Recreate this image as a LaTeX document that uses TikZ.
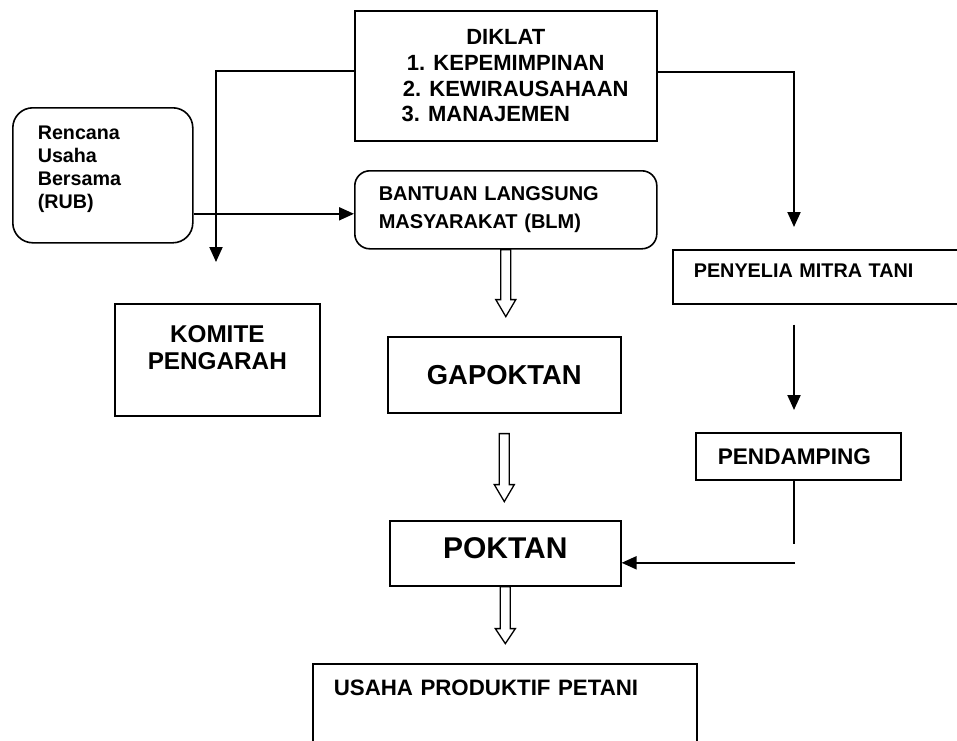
\documentclass[tikz,border=0pt]{standalone}
\usepackage{fontspec}
\setmainfont{Liberation Sans}
\usetikzlibrary{arrows.meta, calc}

\begin{document}
\begin{tikzpicture}[
    x=1pt, y=-1pt,
    box/.style={draw, rectangle, line width=1.6pt, anchor=north west, inner ysep=0pt},
    rbox/.style={box, rounded corners=#1},
    arrow/.style={-{Triangle[length=15pt, width=13pt]}, line width=2pt},
    hollow/.style={draw, line width=1.3pt}
]
\useasboundingbox (0,0) rectangle (957,740);

% Boxes
\node [box, minimum width=302pt, minimum height=130pt, align=center,
       font=\fontsize{22}{25.7}\selectfont\bfseries] (diklat) at (354,10)
      {DIKLAT\\1. KEPEMIMPINAN\\\hspace*{20pt}2. KEWIRAUSAHAAN\\3. MANAJEMEN\rule{40pt}{0pt}};
\node [rbox=20pt, minimum width=180pt, minimum height=135pt, text width=130pt, inner xsep=25pt,
       align=left, font=\fontsize{19.7}{23}\selectfont\bfseries] (rub) at (12,107)
      {Rencana\\Usaha\\Bersama\\(RUB)\rule[-16pt]{0pt}{0pt}};
\node [rbox=15pt, minimum width=302pt, minimum height=78pt, text width=254pt, inner xsep=24pt,
       align=left, font=\fontsize{20}{28}\selectfont\bfseries] (blm) at (354,170)
      {BANTUAN LANGSUNG\\MASYARAKAT (BLM)};
\node [box, minimum width=300pt, minimum height=54pt, text width=258pt, inner xsep=21pt,
       align=left, font=\fontsize{19.8}{23}\selectfont\bfseries] (penyelia) at (672,249)
      {PENYELIA MITRA TANI\rule[-12pt]{0pt}{0pt}};
\node [box, minimum width=205pt, minimum height=112pt, align=center,
       font=\fontsize{24.3}{27}\selectfont\bfseries] (komite) at (114,303)
      {KOMITE\\PENGARAH\rule[-25pt]{0pt}{0pt}};
\node [box, minimum width=233pt, minimum height=76pt,
       font=\fontsize{27.4}{30}\selectfont\bfseries] (gapoktan) at (387,336) {GAPOKTAN};
\node [box, minimum width=205pt, minimum height=47pt, text width=161pt, inner xsep=22pt,
       align=left, font=\fontsize{22.6}{26}\selectfont\bfseries] (pendamping) at (695,432)
      {PENDAMPING};
\node [box, minimum width=231pt, minimum height=65pt,
       font=\fontsize{30}{33}\selectfont\bfseries] (poktan) at (389,520)
      {POKTAN\rule[-11pt]{0pt}{0pt}};
\node [box, minimum width=384pt, minimum height=100pt, text width=342pt, inner xsep=21pt,
       align=left, font=\fontsize{22.3}{26}\selectfont\bfseries] (usaha) at (312,663)
      {USAHA PRODUKTIF PETANI\rule[-52pt]{0pt}{0pt}};

% Arrow ends
\coordinate (komitetop) at (216,262);
\coordinate (penyeliatop) at (794,227);

% Arrows
\draw [arrow] ([yshift=5pt]diklat.west) -| (komitetop);
\draw [arrow] ([yshift=4pt]diklat.east) -| (penyeliatop);
\draw [arrow] ($(rub.east |- blm.west)+(0,4)$) -- ($(blm.west)+(0,4)$);

\draw [hollow] ($(blm.south)+(-5,0)$) -- ++(0,50) -- ++(-5,0) -- ++(10,17) -- ++(10,-17) -- ++(-5,0) -- ++(0,-50) -- cycle;
\draw [hollow] ($(gapoktan.south)+(-5,20)$) -- ++(0,51) -- ++(-5,0) -- ++(10,17) -- ++(10,-17) -- ++(-5,0) -- ++(0,-51) -- cycle;
\draw [hollow] ($(poktan.south)+(-5,0)$) -- ++(0,42) -- ++(-5,0) -- ++(10,15) -- ++(10,-15) -- ++(-5,0) -- ++(0,-42) -- cycle;

\draw [arrow] ($(penyelia.south -| penyeliatop)+(0,20)$) -- ($(pendamping.north -| penyeliatop)+(0,-22)$);
\draw [line width=1.5pt] (pendamping.south -| penyeliatop) -- ++(0,63);
\draw [arrow] ($(poktan.east -| penyeliatop)+(1,9.5)$) -- ($(poktan.east)+(0,9.5)$);

\end{tikzpicture}
\end{document}
